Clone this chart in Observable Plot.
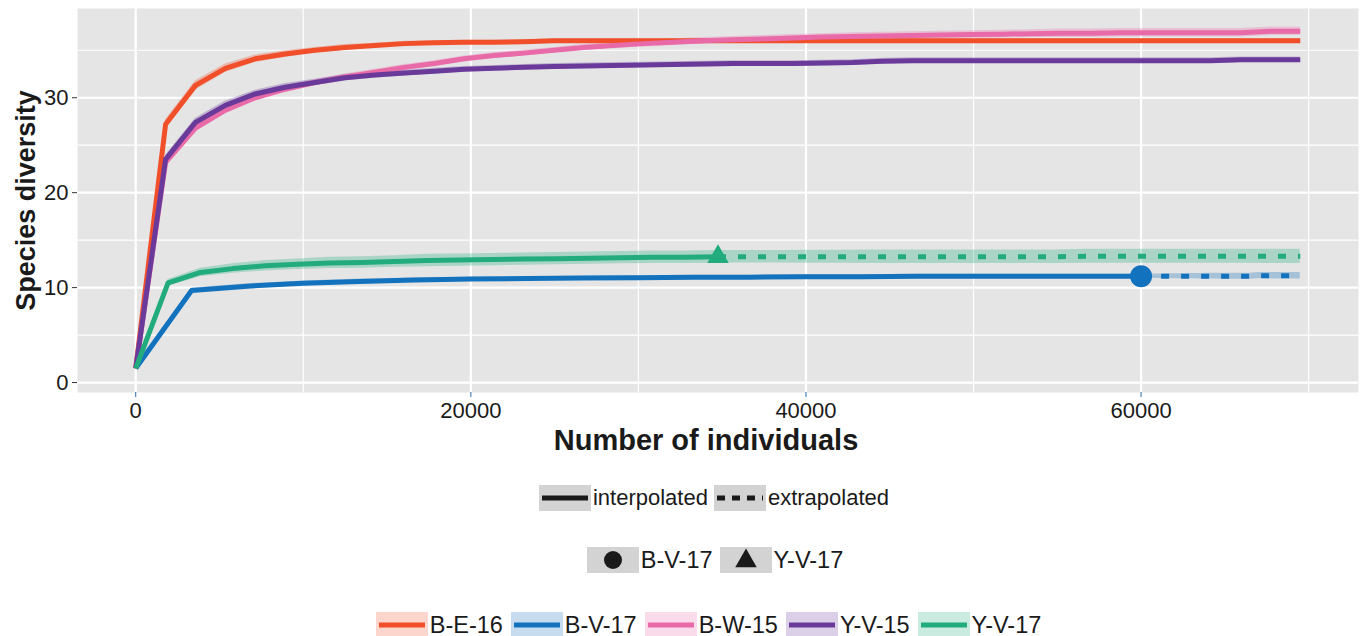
<!DOCTYPE html>
<html>
<head>
<meta charset="utf-8">
<script src="https://cdn.jsdelivr.net/npm/d3@7"></script>
<script src="https://cdn.jsdelivr.net/npm/@observablehq/plot@0.6"></script>
<style>
html,body{margin:0;padding:0;background:#fff;}
body{width:1361px;height:636px;overflow:hidden;font-family:"Liberation Sans",Arial,Helvetica,sans-serif;color:#1a1a1a;}
#chart{position:relative;width:1361px;height:636px;}
#chart svg.main{position:absolute;left:0;top:0;}
.row{position:absolute;width:1000px;height:26px;display:flex;justify-content:center;align-items:center;font-size:22px;line-height:26px;white-space:nowrap;}
.item{display:flex;align-items:center;}
.key{width:52px;height:26px;display:block;}
.lab{margin-left:2px;}
g[aria-label="y-axis label"]{font-weight:bold;font-size:27px;}
g[aria-label="x-axis label"]{font-weight:bold;font-size:29px;translate:-12px 0px;}
</style>
</head>
<body>
<div id="chart"></div>
<script>
// ---------------- data ----------------
const names  = ["B-E-16","B-V-17","B-W-15","Y-V-15","Y-V-17"];
const colors = ["#F14E2A","#1372BE","#E96AA8","#6A3A9A","#22AB7C"];

const xTicks = [0,20000,40000,60000];
const xMinor = [10000,30000,50000,70000];
const yTicks = [0,10,20,30];
const yMinor = [5,15,25,35];

const methodLabels = ["interpolated","extrapolated"];

// sample-size knots shared by the three large samples
const xFull = [1,1783,3565,5347,7129,8911,10693,12475,14257,16039,17821,19603,21385,23167,24949,26731,28513,30295,32077,33859,35641,37423,39205,40987,42769,44551,46333,48115,49897,51679,53461,55243,57025,58807,60589,62371,64153,65935,67717,69500];

const yBE16 = [1.5,27.2,31.3,33.1,34.1,34.6,35.0,35.3,35.5,35.7,35.8,35.85,35.85,35.9,36.0,36.0,36.0,36.0,36.0,36.0,36.0,36.0,36.0,36.0,36.0,36.0,36.0,36.0,36.0,36.0,36.0,36.0,36.0,36.0,36.0,36.0,36.0,36.0,36.0,36.0];
const ciBE16 = [0.1,0.5,0.5,0.45,0.4,0.35,0.3,0.3,0.25,0.25,0.2,0.2,0.2,0.2,0.2,0.2,0.2,0.2,0.2,0.2,0.2,0.2,0.2,0.2,0.2,0.2,0.2,0.2,0.2,0.2,0.2,0.2,0.2,0.2,0.2,0.2,0.2,0.2,0.2,0.2];

const yBW15 = [1.5,23.2,26.8,28.7,30.0,30.9,31.6,32.2,32.7,33.2,33.6,34.1,34.45,34.7,35.0,35.3,35.5,35.7,35.85,36.0,36.1,36.2,36.3,36.4,36.45,36.5,36.55,36.6,36.65,36.7,36.75,36.8,36.8,36.85,36.85,36.85,36.85,36.85,37.0,37.0];
const ciBW15 = [0.1,0.4,0.4,0.4,0.35,0.35,0.3,0.3,0.3,0.3,0.3,0.3,0.3,0.3,0.3,0.3,0.3,0.35,0.35,0.35,0.35,0.35,0.35,0.35,0.4,0.4,0.4,0.4,0.4,0.4,0.4,0.45,0.45,0.45,0.45,0.45,0.45,0.45,0.45,0.45];

const yYV15 = [1.5,23.5,27.4,29.2,30.4,31.1,31.6,32.1,32.4,32.6,32.8,33.0,33.1,33.2,33.3,33.35,33.4,33.45,33.5,33.55,33.6,33.6,33.6,33.65,33.7,33.85,33.9,33.9,33.9,33.9,33.9,33.9,33.9,33.9,33.9,33.9,33.9,34.0,34.0,34.0];
const ciYV15 = [0.1,0.45,0.45,0.45,0.4,0.4,0.35,0.35,0.35,0.3,0.3,0.3,0.3,0.3,0.3,0.3,0.3,0.3,0.3,0.3,0.3,0.3,0.3,0.3,0.3,0.3,0.3,0.3,0.3,0.3,0.3,0.3,0.3,0.3,0.3,0.3,0.3,0.3,0.3,0.3];

// B-V-17 (observed sample 60000)
const xBV17Int = [1,3334,6667,10000,13333,16667,20000,23333,26666,29999,33333,36666,39999,43332,46666,49999,53332,56665,59999,60000];
const yBV17Int = [1.5,9.7,10.15,10.45,10.65,10.8,10.9,10.95,11.0,11.05,11.1,11.1,11.15,11.15,11.2,11.2,11.2,11.2,11.2,11.2];
const ciBV17Int = [0.1,0.25,0.25,0.25,0.25,0.2,0.2,0.2,0.2,0.2,0.2,0.2,0.2,0.2,0.2,0.2,0.2,0.2,0.2,0.2];
const xBV17Ext = [60000,60501,61001,61501,62001,62501,63001,63501,64001,64501,65001,65501,66001,66501,67001,67501,68001,68501,69001,69500];
const yBV17Ext = [11.2,11.2,11.2,11.2,11.2,11.2,11.2,11.2,11.2,11.2,11.2,11.2,11.2,11.2,11.25,11.25,11.25,11.25,11.25,11.25];
const ciBV17Ext = [0.2,0.22,0.24,0.25,0.26,0.27,0.28,0.29,0.3,0.3,0.31,0.31,0.32,0.32,0.33,0.33,0.34,0.34,0.35,0.35];

// Y-V-17 (observed sample 34750)
const xYV17Int = [1,1931,3862,5792,7722,9653,11583,13514,15444,17375,19305,21235,23166,25096,27027,28957,30888,32818,34749,34750];
const yYV17Int = [1.5,10.5,11.6,12.0,12.3,12.45,12.6,12.65,12.75,12.85,12.9,12.95,13.0,13.05,13.1,13.15,13.2,13.2,13.25,13.25];
const ciYV17Int = [0.1,0.35,0.45,0.5,0.55,0.55,0.6,0.6,0.6,0.65,0.65,0.65,0.65,0.65,0.65,0.65,0.65,0.65,0.65,0.65];
const xYV17Ext = [34750,36579,38408,40237,42066,43895,45724,47553,49382,51211,53040,54869,56698,58527,60356,62185,64014,65843,67672,69500];
const yYV17Ext = [13.25,13.25,13.25,13.25,13.25,13.25,13.25,13.25,13.25,13.25,13.25,13.25,13.3,13.3,13.3,13.3,13.3,13.3,13.3,13.3];
const ciYV17Ext = [0.65,0.66,0.67,0.68,0.69,0.7,0.7,0.71,0.71,0.72,0.72,0.72,0.73,0.73,0.73,0.74,0.74,0.74,0.75,0.75];

// observed points
const obsNames   = ["B-V-17","Y-V-17"];
const obsX       = [60000,34750];
const obsY       = [11.2,13.25];
const obsSymbols = ["circle","triangle"];

// ---------------- table building ----------------
function rows(name, method, xs, ys, ci) {
  return xs.map((x, i) => ({series: name, method, key: name + "|" + method, x, y: ys[i], lo: ys[i] - ci[i], hi: ys[i] + ci[i]}));
}
const interp = [
  ...rows("B-E-16","interpolated",xFull,yBE16,ciBE16),
  ...rows("B-V-17","interpolated",xBV17Int,yBV17Int,ciBV17Int),
  ...rows("B-W-15","interpolated",xFull,yBW15,ciBW15),
  ...rows("Y-V-15","interpolated",xFull,yYV15,ciYV15),
  ...rows("Y-V-17","interpolated",xYV17Int,yYV17Int,ciYV17Int)
];
const extrap = [
  ...rows("B-V-17","extrapolated",xBV17Ext,yBV17Ext,ciBV17Ext),
  ...rows("Y-V-17","extrapolated",xYV17Ext,yYV17Ext,ciYV17Ext)
];
const all = [...interp, ...extrap];
const obs = obsNames.map((n, i) => ({series: n, x: obsX[i], y: obsY[i], symbol: obsSymbols[i]}));

const FONT = '"Liberation Sans", Arial, Helvetica, sans-serif';

const plot = Plot.plot({
  width: 1361,
  height: 460,
  marginLeft: 77,
  marginRight: 3,
  marginTop: 8,
  marginBottom: 68,
  style: {fontFamily: FONT, fontSize: "22px", color: "#1a1a1a", background: "white", overflow: "visible"},
  x: {domain: [-3475, 72975]},
  y: {domain: [-1.05, 39.4]},
  color: {domain: names, range: colors},
  marks: [
    Plot.frame({fill: "#E5E5E5", stroke: "none"}),
    Plot.gridX(xMinor, {stroke: "white", strokeOpacity: 1, strokeWidth: 1.2}),
    Plot.gridY(yMinor, {stroke: "white", strokeOpacity: 1, strokeWidth: 1.2}),
    Plot.gridX(xTicks, {stroke: "white", strokeOpacity: 1, strokeWidth: 2.2}),
    Plot.gridY(yTicks, {stroke: "white", strokeOpacity: 1, strokeWidth: 2.2}),
    Plot.axisY(yTicks, {tickSize: 5, tickPadding: 4, fontSize: 22, stroke: "#333", fill: "#1a1a1a",
      label: "Species diversity", labelAnchor: "center", labelOffset: 62, labelArrow: "none"}),
    Plot.axisX(xTicks, {tickSize: 5, tickPadding: 5, fontSize: 22, stroke: "#2B6FB3", fill: "#1a1a1a",
      tickFormat: d => String(d),
      label: "Number of individuals", labelAnchor: "center", labelOffset: 57, labelArrow: "none"}),
    Plot.areaY(all, {x: "x", y1: "lo", y2: "hi", z: "key", fill: "series", fillOpacity: 0.3, curve: "linear"}),
    Plot.line(interp, {x: "x", y: "y", z: "series", stroke: "series", strokeWidth: 5, strokeLinecap: "butt", strokeLinejoin: "round"}),
    Plot.line(extrap, {x: "x", y: "y", z: "series", stroke: "series", strokeWidth: 5, strokeLinecap: "butt", strokeDasharray: "8,12"}),
    Plot.dot(obs, {filter: d => d.symbol === "circle", x: "x", y: "y", fill: "series", r: 11, symbol: "circle", stroke: "none"}),
    Plot.dot(obs, {filter: d => d.symbol === "triangle", x: "x", y: "y", fill: "series", r: 8, symbol: "triangle", stroke: "none"})
  ]
});
plot.classList.add("main");
const chart = document.getElementById("chart");
chart.appendChild(plot);

// ---------------- legends (HTML) ----------------
const SVGNS = "http://www.w3.org/2000/svg";
function keySvg(bg, draw) {
  const s = document.createElementNS(SVGNS, "svg");
  s.setAttribute("class", "key");
  s.setAttribute("width", 52); s.setAttribute("height", 26);
  const r = document.createElementNS(SVGNS, "rect");
  r.setAttribute("width", 52); r.setAttribute("height", 26); r.setAttribute("fill", bg);
  s.appendChild(r);
  draw(s);
  return s;
}
function el(tag, attrs) {
  const e = document.createElementNS(SVGNS, tag);
  for (const k in attrs) e.setAttribute(k, attrs[k]);
  return e;
}
function makeRow(center, top, gap, fontSize, items) {
  const row = document.createElement("div");
  row.className = "row";
  row.style.left = (center - 500) + "px";
  row.style.top = top + "px";
  row.style.gap = gap + "px";
  row.style.fontSize = fontSize + "px";
  items.forEach(([key, text]) => {
    const it = document.createElement("div");
    it.className = "item";
    it.appendChild(key);
    const l = document.createElement("span");
    l.className = "lab"; l.textContent = text;
    it.appendChild(l);
    row.appendChild(it);
  });
  chart.appendChild(row);
}
const GREYKEY = "#D3D3D4";
// row 1: line type
makeRow(714, 485, 6, 22, methodLabels.map((m, i) => [
  keySvg(GREYKEY, s => s.appendChild(el("line", {x1: 3, x2: 49, y1: 13, y2: 13, stroke: "#1a1a1a", "stroke-width": 5,
    "stroke-dasharray": i === 0 ? "none" : "8,7", "stroke-linecap": "butt"}))),
  m
]));
// row 2: observed point shape
makeRow(715, 547, 7, 23.5, obsNames.map((n, i) => [
  keySvg(GREYKEY, s => {
    if (obsSymbols[i] === "circle") s.appendChild(el("circle", {cx: 26, cy: 13, r: 9, fill: "#1a1a1a"}));
    else s.appendChild(el("path", {d: d3.symbol(d3.symbolTriangle, 200)(), transform: "translate(26,14)", fill: "#1a1a1a"}));
  }),
  n
]));
// row 3: series colour
makeRow(708.5, 612, 8, 23.5, names.map((n, i) => {
  const c = d3.color(colors[i]); c.opacity = 0.24;
  return [
    keySvg(c.formatRgb(), s => s.appendChild(el("line", {x1: 3, x2: 49, y1: 13, y2: 13, stroke: colors[i], "stroke-width": 5, "stroke-linecap": "butt"}))),
    n
  ];
}));
</script>
</body>
</html>
